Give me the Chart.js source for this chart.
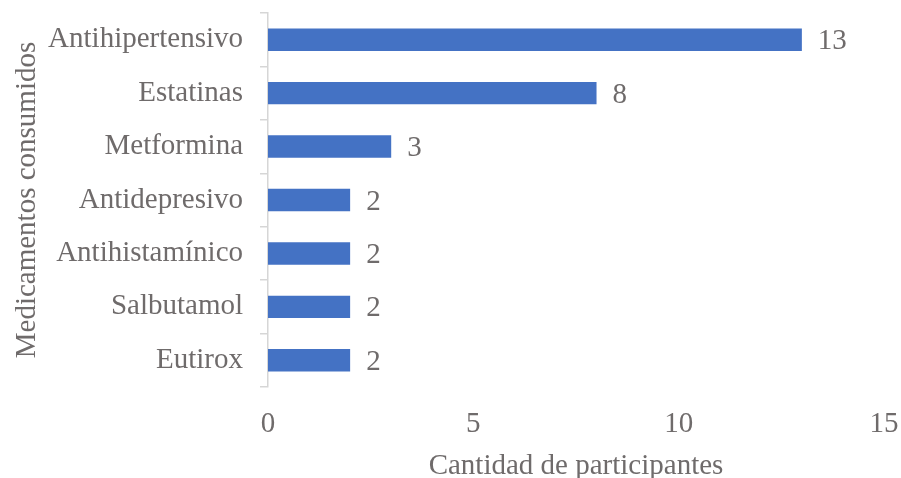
<!DOCTYPE html>
<html>
<head>
<meta charset="utf-8">
<script src="https://cdn.jsdelivr.net/npm/chart.js@4/dist/chart.umd.min.js"></script>
<style>
html,body{margin:0;padding:0;background:#fff;}
#wrap{width:901px;height:478px;position:relative;}
</style>
</head>
<body>
<div id="wrap"><canvas id="c" width="901" height="478"></canvas></div>
<script>
const categories = ["Antihipertensivo","Estatinas","Metformina","Antidepresivo","Antihistamínico","Salbutamol","Eutirox"];
const values = [13, 8, 3, 2, 2, 2, 2];
const xTicks = [0, 5, 10, 15];
const xTitle = "Cantidad de participantes";
const yTitle = "Medicamentos consumidos";

const TEXT = '#6f6b6b';
const FONT = '"Liberation Serif","Times New Roman",serif';

const dataLabels = {
  id: 'dataLabels',
  afterDatasetsDraw(chart) {
    const ctx = chart.ctx;
    const meta = chart.getDatasetMeta(0);
    ctx.save();
    ctx.font = '29px ' + FONT;
    ctx.fillStyle = TEXT;
    ctx.textAlign = 'left';
    ctx.textBaseline = 'middle';
    meta.data.forEach((bar, i) => {
      ctx.fillText(String(values[i]), bar.x + 16, bar.y + 2);
    });
    ctx.restore();
  }
};

new Chart(document.getElementById('c'), {
  type: 'bar',
  data: {
    labels: categories,
    datasets: [{
      data: values,
      backgroundColor: '#4472c4',
      borderWidth: 0,
      barPercentage: 0.42,
      categoryPercentage: 1
    }]
  },
  options: {
    indexAxis: 'y',
    responsive: false,
    animation: false,
    layout: { padding: { top: 13, right: 17, left: 0, bottom: 0 } },
    plugins: { legend: { display: false }, tooltip: { enabled: false } },
    scales: {
      x: {
        min: 0, max: 15,
        afterBuildTicks: (s) => { s.ticks = xTicks.map(v => ({ value: v })); },
        grid: { display: false, drawTicks: false },
        border: { display: false },
        ticks: { color: TEXT, font: { family: FONT, size: 29 }, padding: 20, maxRotation: 0 },
        title: { display: true, text: xTitle, color: TEXT, font: { family: FONT, size: 29, lineHeight: 1 }, padding: { top: 0, bottom: -3 } },
        afterFit: (s) => { s.height = 91; s.paddingLeft = 0; s.paddingRight = 0; }
      },
      y: {
        grid: { display: true, drawOnChartArea: false, offset: true, tickLength: 8, color: '#d6d6d6', lineWidth: 1.5 },
        border: { display: true, color: '#d6d6d6', width: 1.5 },
        ticks: { color: TEXT, font: { family: FONT, size: 29 }, padding: 17 },
        title: { display: true, text: yTitle, color: TEXT, font: { family: FONT, size: 29, lineHeight: 1.2 }, padding: { top: 10, bottom: 0 } },
        afterFit: (s) => { s.width = 268; s.paddingTop = 0; s.paddingBottom = 0; }
      }
    }
  },
  plugins: [dataLabels]
});
</script>
</body>
</html>
